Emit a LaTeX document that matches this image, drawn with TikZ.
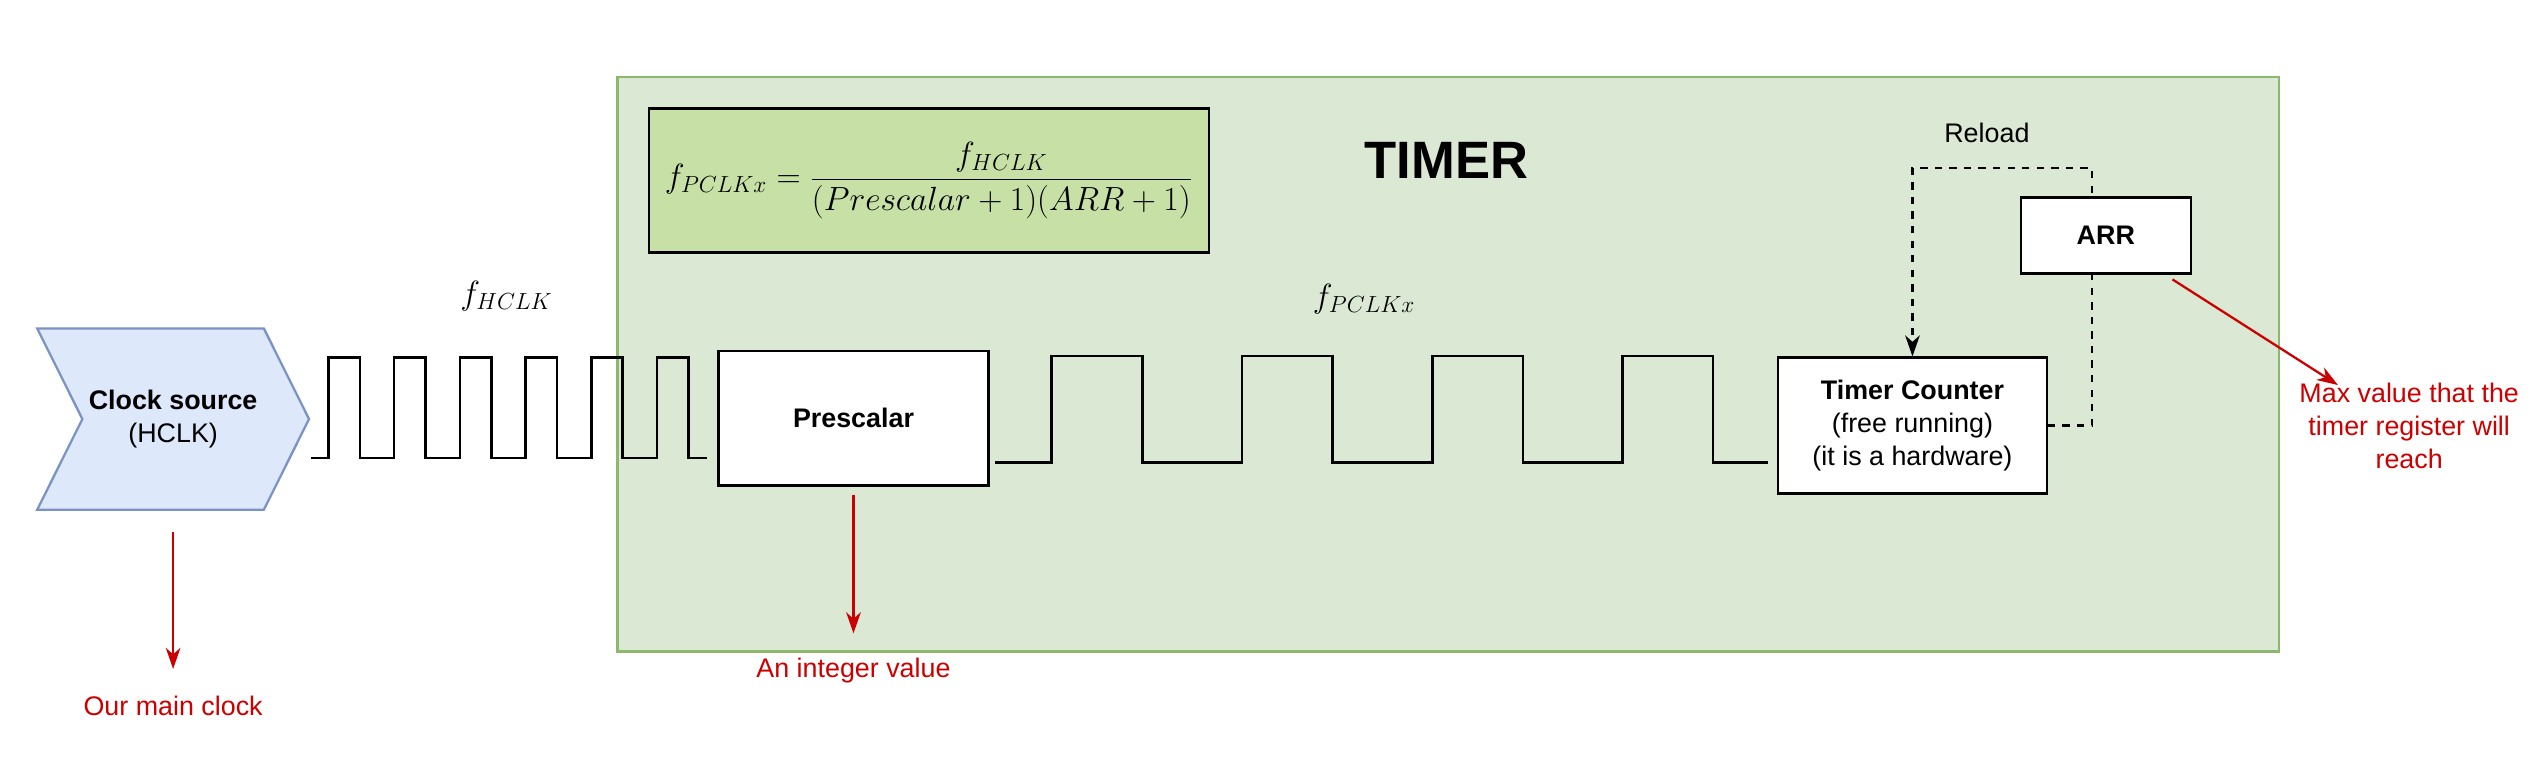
\documentclass[tikz,border=0pt]{standalone}
\usepackage[no-math]{fontspec}
\setmainfont{Liberation Sans}
\usetikzlibrary{arrows.meta,shapes.symbols}
\definecolor{timerfill}{HTML}{DAE8D4}
\definecolor{timerline}{HTML}{8CB86E}
\definecolor{formfill}{HTML}{C6E0A6}
\definecolor{srcfill}{HTML}{DEE8FB}
\definecolor{srcline}{HTML}{7A93C4}
\definecolor{notered}{HTML}{CC0000}
\newcommand{\txtsize}{\fontsize{16.6}{20.5}\selectfont}
\newcommand{\mathsize}{\fontsize{20.5}{24}\selectfont}
\begin{document}
\begin{tikzpicture}[x=1pt, y=-1pt, >={Stealth[length=13pt,width=9pt,inset=4pt]},
	box/.style={draw=black, line width=1.4pt, fill=white, align=center, font=\txtsize},
	wave/.style={line width=1.6pt},
	reloadline/.style={line width=1.4pt, dash pattern=on 4.5pt off 4.5pt, ->},
	note/.style={draw=notered, line width=1.4pt, ->, >={Stealth[length=13pt,width=9pt,inset=4pt]}, notered},
	notetext/.style={text=notered, align=center, font=\txtsize}]
	\useasboundingbox (0,0) rectangle (1568,472);
	% timer block
	\node[draw=timerline, fill=timerfill, line width=1.4pt, inner sep=0pt, minimum width=1027pt, minimum height=355pt, anchor=north west] (timer) at (381,47) {};
	\node[draw=black, fill=formfill, line width=1.4pt, minimum width=346pt, minimum height=89pt, font=\mathsize] (form) at (574,111.5)
		{$\displaystyle f_{PCLKx}=\frac{f_{HCLK}}{(Prescalar+1)(ARR+1)}$};
	\node[font=\fontsize{32.5}{38}\selectfont\bfseries] (title) at (894,99) {TIMER};
	% clock source
	\node[signal, signal to=east, signal from=west, signal pointer angle=127, draw=srcline, fill=srcfill, line width=1.4pt,
		minimum width=168pt, minimum height=112pt, align=center, font=\txtsize] (src) at (107,259) {\textbf{Clock source}\\(HCLK)};
	% clock waves
	\draw[wave] (192,283) \foreach \r in {203,243.6,284.2,324.8,365.4,406} { -- (\r,283) -- (\r,221) -- (\r+19.5,221) -- (\r+19.5,283)} -- (437,283);
	\draw[wave] (615,286) \foreach \r in {650,767.6,885.2,1002.8} { -- (\r,286) -- (\r,220) -- (\r+56,220) -- (\r+56,286)} -- (1093,286);
	\node[font=\mathsize] (fh) at (313,183) {$f_{HCLK}$};
	\node[font=\mathsize] (fp) at (843,185) {$f_{PCLKx}$};
	% blocks
	\node[box, minimum width=167pt, minimum height=83pt] (pre) at (527.5,258.5) {\textbf{Prescalar}};
	\node[box, minimum width=166pt, minimum height=84pt] (tc) at (1182,263) {\textbf{Timer Counter}\\(free running)\\(it is a hardware)};
	\coordinate (reload) at (1293,104);
	\draw[reloadline] (tc.east) -| (reload) -| (tc.north);
	\node[font=\txtsize] (rl) at (1228,82) {Reload};
	\node[box, minimum width=105pt, minimum height=47pt] (arr) at (1301.5,145.5) {\textbf{ARR}};
	% notes
	\node[notetext, anchor=base] (clk) at (107,442) {Our main clock};
	\node[notetext, anchor=base] (int) at (527.5,419) {An integer value};
	\node[notetext, anchor=north] (maxv) at (1489,233) {Max value that the\\timer register will\\reach};
	\draw[note, shorten <=13pt, shorten >=13pt] (src.south) -- (clk.north);
	\draw[note, shorten <=5pt, shorten >=12pt] (pre.south) -- (int.north);
	\draw[note] ([xshift=-12pt,yshift=-3pt]arr.south east) -- ([xshift=-44pt,yshift=-5pt]maxv.north);
\end{tikzpicture}
\end{document}
